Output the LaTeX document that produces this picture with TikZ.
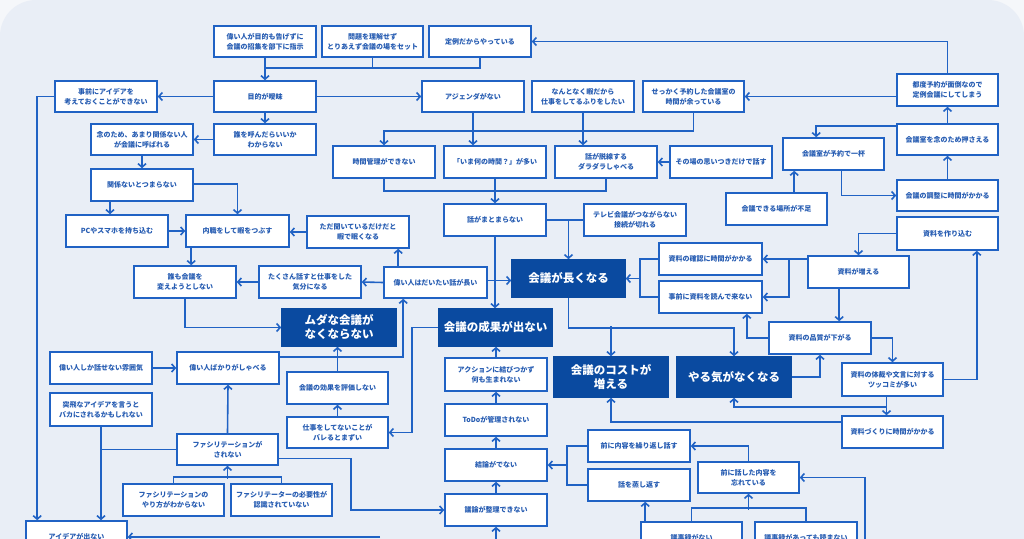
\documentclass[tikz,border=0pt]{standalone}
\usepackage{fontspec}
\setmainfont{Noto Sans CJK JP}
\usetikzlibrary{arrows.meta}
\definecolor{bd}{RGB}{32,98,196}
\definecolor{tx}{RGB}{38,92,178}
\definecolor{dk}{RGB}{10,74,160}
\definecolor{panel}{RGB}{233,238,246}
\definecolor{outer}{RGB}{245,247,250}
\tikzset{
 ln/.style={draw=bd, line width=1.6pt},
 arr/.style={ln, -{Straight Barb[length=3.5pt,width=8pt]}},
 box/.style={draw=bd, line width=1.6pt, fill=white, align=center, inner sep=0pt, text=tx, font=\fontsize{7}{10}\selectfont\bfseries},
 dbox/.style={draw=dk, fill=dk, line width=1.6pt, align=center, inner sep=0pt, text=white, font=\fontsize{11.5}{14}\selectfont\bfseries},
}
\newcommand\mkbox[7][box]{\node[#1, minimum width={(#5-#3)*1pt}, minimum height={(#6-#4)*1pt}] (#2) at ({(#3+#5)/2},{(#4+#6)/2}) {#7};}
\begin{document}
\begin{tikzpicture}[x=1pt,y=-1pt]
\clip (0,0) rectangle (1024,538);
\fill[outer] (0,0) rectangle (1024,538);
\fill[panel, rounded corners=36pt] (0,0) rectangle (1024,600);
% nodes
\mkbox{n1}{214}{26}{316}{57}{偉い人が目的も告げずに\\会議の招集を部下に指示}
\mkbox{n2}{322}{26}{423}{57}{問題を理解せず\\とりあえず会議の場をセット}
\mkbox{n3}{429}{26}{531}{57}{定例だからやっている}
\mkbox{mokuteki}{214}{81}{316}{112}{目的が曖昧}
\mkbox{jizen}{55}{81}{157}{112}{事前にアイデアを\\考えておくことができない}
\mkbox{dare}{214}{124}{316}{155}{誰を呼んだらいいか\\わからない}
\mkbox{nen}{91}{124}{193}{155}{念のため、あまり関係ない人\\が会議に呼ばれる}
\mkbox{kankei}{91}{169}{193}{201}{関係ないとつまらない}
\mkbox{agenda}{422}{81}{524}{112}{アジェンダがない}
\mkbox{nantonaku}{532}{81}{634}{112}{なんとなく暇だから\\仕事をしてるふりをしたい}
\mkbox{sekkaku}{643}{81}{744}{112}{せっかく予約した会議室の\\時間が余っている}
\mkbox{tsudo}{897}{74}{998}{106}{都度予約が面倒なので\\定例会議にしてしまう}
\mkbox{jikan}{333}{146}{435}{178}{時間管理ができない}
\mkbox{ima}{444}{146}{546}{178}{「いま何の時間？」が多い}
\mkbox{dassen}{555}{146}{657}{178}{話が脱線する\\ダラダラしゃべる}
\mkbox{sonoba}{670}{146}{772}{178}{その場の思いつきだけで話す}
\mkbox{nennotame}{897}{124}{998}{155}{会議室を念のため押さえる}
\mkbox{ippai}{783}{138}{884}{170}{会議室が予約で一杯}
\mkbox{chousei}{897}{180}{998}{211}{会議の調整に時間がかかる}
\mkbox{basho}{726}{193}{827}{225}{会議できる場所が不足}
\mkbox{tsukurikomu}{897}{217}{998}{250}{資料を作り込む}
\mkbox{pc}{66}{215}{168}{247}{PCやスマホを持ち込む}
\mkbox{naishoku}{186}{215}{289}{247}{内職をして暇をつぶす}
\mkbox{tada}{307}{216}{409}{248}{ただ聞いているだけだと\\暇で眠くなる}
\mkbox{matomara}{444}{204}{546}{236}{話がまとまらない}
\mkbox{tv}{584}{204}{686}{236}{テレビ会議がつながらない\\接続が切れる}
\mkbox{kakunin}{659}{243}{762}{275}{資料の確認に時間がかかる}
\mkbox{yondekonai}{659}{281}{762}{313}{事前に資料を読んで来ない}
\mkbox{fueru}{808}{256}{909}{288}{資料が増える}
\mkbox{daremo}{134}{266}{236}{298}{誰も会議を\\変えようとしない}
\mkbox{takusan}{259}{266}{361}{298}{たくさん話すと仕事をした\\気分になる}
\mkbox{erai}{384}{267}{487}{298}{偉い人はだいたい話が長い}
\mkbox[dbox]{nagaku}{512}{260}{625}{297}{会議が長くなる}
\mkbox[dbox]{muda}{282}{309}{396}{346}{ムダな会議が\\なくならない}
\mkbox[dbox]{seika}{439}{309}{552}{346}{会議の成果が出ない}
\mkbox{hinshitsu}{769}{322}{871}{354}{資料の品質が下がる}
\mkbox{eraionly}{50}{352}{152}{384}{偉い人しか話せない雰囲気}
\mkbox{bakari}{177}{352}{279}{384}{偉い人ばかりがしゃべる}
\mkbox{kouka}{287}{372}{388}{404}{会議の効果を評価しない}
\mkbox{action}{445}{358}{547}{391}{アクションに結びつかず\\何も生まれない}
\mkbox[dbox]{cost}{554}{357}{668}{397}{会議のコストが\\増える}
\mkbox[dbox]{yaruki}{677}{357}{791}{397}{やる気がなくなる}
\mkbox{teisai}{842}{363}{943}{396}{資料の体裁や文言に対する\\ツッコミが多い}
\mkbox{toppi}{50}{393}{152}{426}{突飛なアイデアを言うと\\バカにされるかもしれない}
\mkbox{todo}{445}{404}{547}{436}{ToDoが管理されない}
\mkbox{bare}{287}{417}{388}{448}{仕事をしてないことが\\バレるとまずい}
\mkbox{zukuri}{842}{416}{943}{448}{資料づくりに時間がかかる}
\mkbox{kurikaeshi}{588}{430}{690}{462}{前に内容を繰り返し話す}
\mkbox{faci}{177}{434}{278}{465}{ファシリテーションが\\されない}
\mkbox{ketsuron}{445}{449}{547}{481}{結論がでない}
\mkbox{wasure}{698}{462}{799}{493}{前に話した内容を\\忘れている}
\mkbox{mushi}{588}{469}{690}{501}{話を蒸し返す}
\mkbox{yarikata}{123}{484}{224}{516}{ファシリテーションの\\やり方がわからない}
\mkbox{hitsuyou}{231}{484}{332}{516}{ファシリテーターの必要性が\\認識されていない}
\mkbox{giron}{445}{494}{547}{526}{議論が整理できない}
\mkbox{idea}{26}{521}{127}{553}{アイデアが出ない}
\mkbox{gijiroku}{641}{522}{742}{554}{議事録がない}
\mkbox{gijiroku2}{755}{522}{857}{554}{議事録があっても読まない}
\coordinate (ib) at (380,537);
\coordinate (gb) at (496,545);
\coordinate (wb) at (865,545);
% edges
\draw[ln] (n1.south) -- ++(0,10) -| (n3.south);
\draw[ln] (n2.south) -- ++(0,10);
\draw[arr] (n1.south) -- (mokuteki.north);
\draw[arr] (mokuteki.west) -- (jizen.east);
\draw[arr] (mokuteki.east) -- (agenda.west);
\draw[arr] (mokuteki.south) -- (dare.north);
\draw[arr] (dare.west) -- (nen.east);
\draw[arr] (nen.south) -- (kankei.north);
\draw[arr] ([xshift=-32pt]kankei.south) -- ([xshift=-32pt]kankei.south |- pc.north);
\draw[arr] ([yshift=1pt]kankei.east) -| (naishoku.north);
\draw[arr] (pc.east) -- (naishoku.west);
\draw[arr] ([xshift=6pt]naishoku.south west) -- ([xshift=6pt]naishoku.south west |- daremo.north);
\draw[arr] (tada.west) -- (tada.west -| naishoku.east);
\draw[arr] ([xshift=15pt]erai.north west) -- ([xshift=15pt]erai.north west |- tada.south);
\draw[arr] (erai.west) -- (takusan.east);
\draw[arr] (takusan.west) -- (daremo.east);
\draw[arr] (daremo.south) |- (muda.west);
\draw[arr] ([yshift=2pt]erai.east) -- ([yshift=2pt]erai.east -| nagaku.west);
\draw[ln] (jikan.south) -- ++(0,12) -| (dassen.south);
\draw[arr] (ima.south) -- (matomara.north);
\draw[arr] (matomara.south) -- (matomara.south |- seika.north);
\draw[ln] (matomara.east) -- (tv.west);
\draw[arr] (nagaku.north |- matomara.east) -- (nagaku.north);
\draw[ln] (kakunin.west) -- ++(-18,0) |- (yondekonai.west);
\draw[arr] ([xshift=-18pt]kakunin.west |- nagaku.east) -- (nagaku.east);
\draw[arr] (fueru.west |- kakunin.east) -- (kakunin.east);
\draw[arr] ([xshift=26pt]kakunin.east) |- (yondekonai.east);
\draw[arr] (tsukurikomu.west) -| (fueru.north);
\draw[arr] ([xshift=32pt]fueru.south west) -- ([xshift=32pt]fueru.south west |- hinshitsu.north);
\draw[arr] (hinshitsu.west) -| ([xshift=-16pt]yondekonai.south east);
\draw[arr] (hinshitsu.east) -| (teisai.north);
\draw[arr] (yaruki.east) -| (hinshitsu.south);
\draw[arr] (teisai.east) -| ([xshift=-22pt]tsukurikomu.south east);
\draw[arr] ([xshift=-6pt]teisai.south) -- ([xshift=-6pt]teisai.south |- zukuri.north);
\draw[arr] ([xshift=-6pt,yshift=-10pt]teisai.south) -| (yaruki.south);
\draw[arr] ([yshift=10pt]zukuri.west) -| (cost.south);
\draw[arr] (nagaku.south) -- ++(0,30) -| (yaruki.north);
\draw[arr] ([yshift=30pt]cost.north) -- (cost.north);
\draw[arr] (seika.west) -- ++(-26,0) |- (bare.east);
\draw[arr] (kouka.north) -- (kouka.north |- muda.south);
\draw[arr] (bare.north) -- (kouka.south);
\draw[arr] ([yshift=-6pt]bakari.north east) -| ([xshift=20pt]erai.south west);
\draw[arr] (eraionly.east) -- (bakari.west);
\draw[arr] (faci.north) -- (bakari.south);
\draw[ln] (yarikata.north) -- ++(0,-6) -| (hitsuyou.north);
\draw[arr] ([yshift=-13pt]faci.south) -- (faci.south);
\draw[arr] ([yshift=-9pt]faci.east) -- ++(72,0) |- (giron.west);
\draw[ln] (faci.west) -- (faci.west -| toppi.south);
\draw[arr] (toppi.south) -- (toppi.south |- idea.north);
\draw[arr] (jizen.west) -| ([xshift=12pt]idea.north west);
\draw[arr] (ib) -- (idea.east);
\draw[arr] (action.north) -- (action.north |- seika.south);
\draw[arr] (todo.north) -- (action.south);
\draw[arr] (ketsuron.north) -- (todo.south);
\draw[arr] (giron.north) -- (ketsuron.south);
\draw[arr] (gb) -- (giron.south);
\draw[ln] (kurikaeshi.west) -- ++(-20,0) |- (mushi.west);
\draw[arr] ([xshift=-20pt]kurikaeshi.west |- ketsuron.east) -- (ketsuron.east);
\draw[arr] (wasure.north) |- (kurikaeshi.east);
\draw[arr] ([xshift=5pt]gijiroku.north west) -- ([xshift=5pt]gijiroku.north west |- mushi.south);
\draw[ln] (gijiroku.north) -- ++(0,-13) -| (gijiroku2.north);
\draw[arr] ([yshift=-16pt]wasure.south) -- (wasure.south);
\draw[arr] (wb) |- (wasure.east);
\draw[arr] (tsudo.west |- sekkaku.east) -- (sekkaku.east);
\draw[arr] (tsudo.north) |- (n3.east);
\draw[arr] (nennotame.north) -- (tsudo.south);
\draw[arr] ([yshift=-3pt]nennotame.north west) -| ([xshift=34pt]ippai.north west);
\draw[arr] (chousei.north) -- (nennotame.south);
\draw[arr] ([xshift=8pt]ippai.south) |- (chousei.west);
\draw[arr] ([xshift=12pt]ippai.south west |- basho.north) -- ([xshift=12pt]ippai.south west);
\draw[arr] (sekkaku.south) |- ([yshift=14pt]jikan.north) -- (jikan.north);
\draw[arr] (agenda.south) -- (agenda.south |- ima.north);
\draw[arr] (nantonaku.south) -- (nantonaku.south |- dassen.north);
\draw[arr] (sonoba.west) -- (dassen.east);
\end{tikzpicture}
\end{document}
